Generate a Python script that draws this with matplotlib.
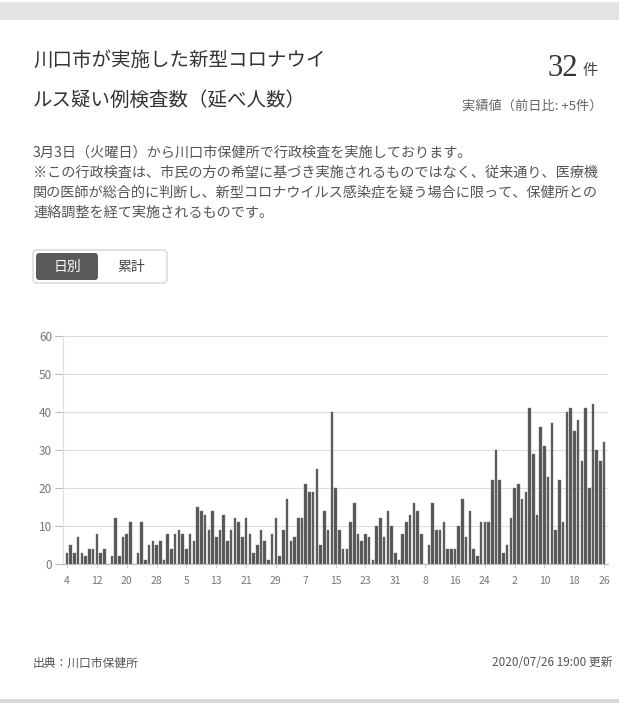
import numpy as np
import matplotlib.pyplot as plt
from matplotlib.patches import FancyBboxPatch, Rectangle

plt.rcParams['font.family'] = ['Noto Sans CJK JP', 'DejaVu Sans']

# daily test counts, 2020-03-04 .. 2020-07-26
counts = [
    3, 5, 3, 7, 3, 2, 4, 4, 8, 3, 4, 0, 2, 12, 2, 7, 8, 11, 0, 3,
    11, 1, 5, 6, 5, 6, 1, 8, 4, 8, 9, 8, 4, 8, 6, 15, 14, 13, 9, 14,
    7, 9, 13, 6, 9, 12, 11, 7, 12, 8, 3, 5, 9, 6, 1, 8, 12, 2, 9, 17,
    6, 7, 12, 12, 21, 19, 19, 25, 5, 14, 9, 40, 20, 9, 4, 4, 11, 16, 8, 6,
    8, 7, 1, 10, 12, 7, 14, 10, 3, 1, 8, 11, 13, 16, 14, 8, 0, 5, 16, 9,
    9, 11, 4, 4, 4, 10, 17, 7, 14, 4, 2, 11, 11, 11, 22, 30, 22, 3, 5, 12,
    20, 21, 17, 19, 41, 29, 13, 36, 31, 23, 37, 9, 22, 11, 40, 41, 35, 38, 27, 41,
    20, 42, 30, 27, 32,
]
tick_pos = list(range(0, 145, 8))
tick_labels = ['4', '12', '20', '28', '5', '13', '21', '29', '7', '15',
               '23', '31', '8', '16', '24', '2', '10', '18', '26']
y_ticks = [0, 10, 20, 30, 40, 50, 60]

title_lines = ['川口市が実施した新型コロナウイ', 'ルス疑い例検査数（延べ人数）']
desc_lines = [
    '3月3日（火曜日）から川口市保健所で行政検査を実施しております。',
    '※この行政検査は、市民の方の希望に基づき実施されるものではなく、従来通り、医療機',
    '関の医師が総合的に判断し、新型コロナウイルス感染症を疑う場合に限って、保健所との',
    '連絡調整を経て実施されるものです。',
]

W, H = 619, 709
fig = plt.figure(figsize=(W / 100, H / 100), dpi=100)


def fx(x):
    return x / W


def fy(y):
    return 1 - y / H


# scan-like bands at top and bottom
fig.patches.append(Rectangle((0, fy(20)), 1, fy(2) - fy(20), transform=fig.transFigure,
                             color='#e4e4e4', lw=0))
fig.patches.append(Rectangle((0, fy(703)), 1, fy(699) - fy(703), transform=fig.transFigure,
                             color='#d8d8d8', lw=0))

# title
fig.text(fx(33), fy(60), title_lines[0], fontsize=14, color='#333333', va='center')
fig.text(fx(33), fy(100), title_lines[1], fontsize=14, color='#333333', va='center')
fig.text(fx(578), fy(68), '32', fontsize=22, color='#333333', va='center', ha='right',
         family=['Liberation Serif'])
fig.text(fx(583), fy(70), '件', fontsize=11, color='#444444', va='center')
fig.text(fx(602), fy(106), '実績値（前日比: +5件）', fontsize=9.5, color='#666666',
         va='center', ha='right')

# description
for i, line in enumerate(desc_lines):
    fig.text(fx(33), fy(153 + i * 20), line, fontsize=10.2, color='#555555', va='center')

# toggle buttons
fig.patches.append(FancyBboxPatch((fx(33), fy(283)), fx(167) - fx(33), fy(250) - fy(283),
                                  boxstyle='round,pad=0,rounding_size=0.006',
                                  transform=fig.transFigure, fc='white', ec='#cccccc', lw=0.8))
fig.patches.append(FancyBboxPatch((fx(36), fy(280)), fx(98) - fx(36), fy(253) - fy(280),
                                  boxstyle='round,pad=0,rounding_size=0.005',
                                  transform=fig.transFigure, fc='#5a5a5a', ec='none'))
fig.text(fx(67), fy(267), '日別', fontsize=10, color='white', va='center', ha='center')
fig.text(fx(131), fy(267), '累計', fontsize=10, color='#444444', va='center', ha='center')

# chart
x0, x1 = 63.3, 607.9
ax = fig.add_axes([fx(x0), fy(564), fx(x1) - fx(x0), fy(336) - fy(564)])
x = np.arange(len(counts))
ax.bar(x, counts, width=0.68, color='#555555', edgecolor='#777777', linewidth=0.3, zorder=3)
ax.set_xlim(-1, len(counts))
ax.set_ylim(0, 60)
ax.set_yticks(y_ticks)
ax.set_xticks(tick_pos)
ax.set_xticklabels(tick_labels)
ax.grid(axis='y', color='#dddddd', lw=0.8, zorder=0)
for s in ['top', 'right']:
    ax.spines[s].set_visible(False)
ax.spines['left'].set_color('#dddddd')
ax.spines['bottom'].set_color('#bbbbbb')
ax.tick_params(axis='y', colors='#bbbbbb', labelcolor='#777777', labelsize=8.5, length=6, pad=2)
ax.tick_params(axis='x', colors='#cccccc', labelcolor='#777777', labelsize=7.5, length=3, pad=6)

# footer
fig.text(fx(33), fy(663), '出典：川口市保健所', fontsize=8.5, color='#555555', va='center')
fig.text(fx(612), fy(663), '2020/07/26 19:00 更新', fontsize=8.5, color='#555555',
         va='center', ha='right')

fig.savefig('out.png', dpi=100, facecolor='white')
